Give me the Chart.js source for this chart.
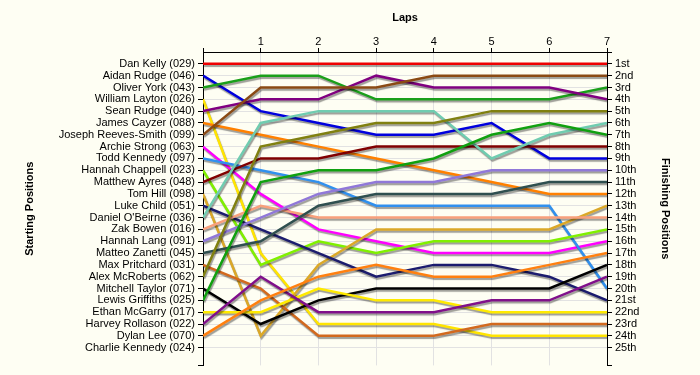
<!DOCTYPE html>
<html><head><meta charset="utf-8">
<script src="https://cdn.jsdelivr.net/npm/chart.js@4.4.0/dist/chart.umd.min.js"></script>
<style>html,body{margin:0;padding:0;background:#fefef3;}#wrap{width:700px;height:375px;}</style>
</head><body><div id="wrap"><canvas id="c" width="700" height="375"></canvas></div>
<script>
// ---- data ----
const laps = [0, 1, 2, 3, 4, 5, 6, 7];
const drivers = ['Dan Kelly (029)', 'Aidan Rudge (046)', 'Oliver York (043)', 'William Layton (026)',
  'Sean Rudge (040)', 'James Cayzer (088)', 'Joseph Reeves-Smith (099)', 'Archie Strong (063)',
  'Todd Kennedy (097)', 'Hannah Chappell (023)', 'Matthew Ayres (048)', 'Tom Hill (098)',
  'Luke Child (051)', "Daniel O'Beirne (036)", 'Zak Bowen (016)', 'Hannah Lang (091)',
  'Matteo Zanetti (045)', 'Max Pritchard (031)', 'Alex McRoberts (062)', 'Mitchell Taylor (071)',
  'Lewis Griffiths (025)', 'Ethan McGarry (017)', 'Harvey Rollason (022)', 'Dylan Lee (070)',
  'Charlie Kennedy (024)'];
const finishLabels = ['1st','2nd','3rd','4th','5th','6th','7th','8th','9th','10th','11th','12th','13th',
  '14th','15th','16th','17th','18th','19th','20th','21st','22nd','23rd','24th','25th'];

const danKelly        = [1, 1, 1, 1, 1, 1, 1, 1];
const aidanRudge      = [2, 5, 6, 7, 7, 6, 9, 9];
const oliverYork      = [3, 2, 2, 4, 4, 4, 4, 3];
const williamLayton   = [4, 17, 23, 23, 23, 24, 24, 24];
const seanRudge       = [5, 4, 4, 2, 3, 3, 3, 4];
const jamesCayzer     = [6, 7, 8, 9, 10, 11, 12, 12];
const josephReevesSmith = [7, 3, 3, 3, 2, 2, 2, 2];
const archieStrong    = [8, 12, 15, 16, 17, 17, 17, 16];
const toddKennedy     = [9, 10, 11, 13, 13, 13, 13, 20];
const hannahChappell  = [10, 18, 16, 17, 16, 16, 16, 15];
const matthewAyres    = [11, 9, 9, 8, 8, 8, 8, 8];
const tomHill         = [12, 24, 18, 15, 15, 15, 15, 13];
const lukeChild       = [13, 15, 17, 19, 18, 18, 19, 21];
const danielOBeirne   = [14, 6, 5, 5, 5, 9, 7, 6];
const zakBowen        = [15, 13, 14, 14, 14, 14, 14, 14];
const hannahLang      = [16, 14, 12, 11, 11, 10, 10, 10];
const matteoZanetti   = [17, 16, 13, 12, 12, 12, 11, 11];
const maxPritchard    = [18, 20, 24, 24, 24, 23, 23, 23];
const alexMcRoberts   = [19, 8, 7, 6, 6, 5, 5, 5];
const mitchellTaylor  = [20, 23, 21, 20, 20, 20, 20, 18];
const lewisGriffiths  = [21, 11, 10, 10, 9, 7, 6, 7];
const ethanMcGarry    = [22, 22, 20, 21, 21, 22, 22, 22];
const harveyRollason  = [23, 19, 22, 22, 22, 21, 21, 19];
const dylanLee        = [24, 21, 19, 18, 19, 19, 18, 17];
const charlieKennedy  = [];

const series = [danKelly, aidanRudge, oliverYork, williamLayton, seanRudge, jamesCayzer,
  josephReevesSmith, archieStrong, toddKennedy, hannahChappell, matthewAyres, tomHill, lukeChild,
  danielOBeirne, zakBowen, hannahLang, matteoZanetti, maxPritchard, alexMcRoberts, mitchellTaylor,
  lewisGriffiths, ethanMcGarry, harveyRollason, dylanLee, charlieKennedy];

// ---- styles ----
const colors = ['#ee0000', '#0000dd', '#1a9f1a', '#ffe400', '#800080', '#ff8000', '#8a4a14', '#ff00ff',
  '#3090ee', '#80f000', '#800000', '#dba828', '#1c1c6e', '#70ccb0', '#f8a07c', '#9078d8',
  '#2f4f4f', '#d2691e', '#808010', '#000000', '#10a010', '#ffea00', '#80108a', '#ff8010', '#999999'];

const rowTicks = drivers.map((d, i) => i + 1);

const datasets = series.map((s, i) => ({
  label: drivers[i],
  data: s.map((p, k) => ({ x: laps[k], y: p })),
  borderColor: colors[i],
  backgroundColor: colors[i],
  borderWidth: 2.5,
  pointRadius: 0,
  tension: 0,
  fill: false,
  order: drivers.length - i
}));

const shadowPlugin = {
  id: 'shadow',
  beforeDatasetsDraw(chart) {
    const c = chart.ctx; c.save();
    c.shadowColor = 'rgba(0,0,0,0.38)'; c.shadowOffsetX = 1; c.shadowOffsetY = 2; c.shadowBlur = 1;
  },
  afterDatasetsDraw(chart) { chart.ctx.restore(); }
};

Chart.defaults.font.family = "'Liberation Sans', Arial, sans-serif";
Chart.defaults.font.size = 11;
Chart.defaults.color = '#000';

const gridCol = '#e2e2e2';

new Chart(document.getElementById('c'), {
  type: 'line',
  data: { datasets },
  plugins: [shadowPlugin],
  options: {
    responsive: false,
    animation: false,
    layout: { padding: { bottom: 5, top: 0, left: 0, right: 0 } },
    plugins: { legend: { display: false }, tooltip: { enabled: false } },
    scales: {
      x: {
        type: 'linear', position: 'top', min: 0, max: 7,
        ticks: { stepSize: 1, padding: -1, callback: v => (v === 0 ? '' : String(v)) },
        grid: { color: gridCol, tickColor: '#000', tickLength: 4 },
        border: { color: '#000' },
        title: { display: true, text: 'Laps', font: { weight: 'bold', size: 11 }, padding: { top: 11, bottom: 0 } },
        afterFit: s => { s.height = 52; }
      },
      y: {
        type: 'linear', position: 'left', reverse: true, min: 0, max: 26.5,
        afterBuildTicks: s => { s.ticks = rowTicks.map(v => ({ value: v })).concat([{ value: 26.5 }]); },
        ticks: { autoSkip: false, padding: 3, callback: v => (Number.isInteger(v) && v >= 1 && v <= drivers.length ? drivers[v - 1] : '') },
        grid: { color: c => (c.tick && c.tick.value <= 25 ? gridCol : 'rgba(0,0,0,0)'), tickColor: '#000', tickLength: 5 },
        border: { color: '#000' },
        title: { display: true, text: 'Starting Positions', font: { weight: 'bold', size: 11 }, padding: { top: 23, bottom: 0 } },
        afterFit: s => { s.width = 203; }
      },
      y2: {
        type: 'linear', position: 'right', reverse: true, min: 0, max: 26.5,
        afterBuildTicks: s => { s.ticks = [{ value: 0 }].concat(rowTicks.map(v => ({ value: v }))).concat([{ value: 26.5 }]); },
        ticks: { autoSkip: false, padding: 3, callback: v => (Number.isInteger(v) && v >= 1 && v <= finishLabels.length ? finishLabels[v - 1] : '') },
        grid: { drawOnChartArea: false, tickColor: '#000', tickLength: 5 },
        border: { color: '#000' },
        title: { display: true, text: 'Finishing Positions', font: { weight: 'bold', size: 11 }, padding: { top: 28, bottom: 0 } },
        afterFit: s => { s.width = 93; }
      }
    }
  }
});
</script>
</body></html>
